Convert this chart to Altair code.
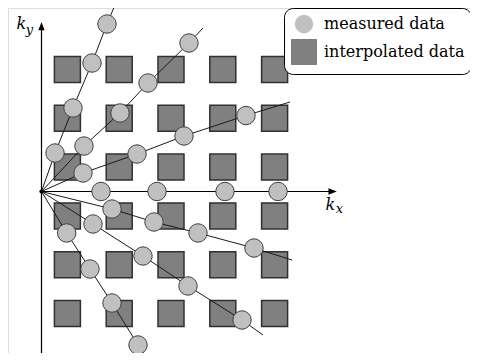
import altair as alt
import pandas as pd

# ---- data (k-space units: one interpolation-grid step) ----
grid_kx = [0.5, 1.5, 2.5, 3.5, 4.5]
grid_ky = [2.5, 1.5, 0.5, -0.5, -1.5, -2.5]

spoke_kx = {
    1: [0.261, 0.608, 0.975, 1.264],
    2: [0.820, 1.515, 2.056, 2.847],
    3: [0.801, 1.844, 2.751, 3.948],
    4: [1.149, 2.230, 3.542, 4.566],
    5: [1.361, 2.172, 3.021, 4.102],
    6: [0.994, 1.959, 2.828, 3.871],
    7: [0.486, 0.936, 1.361, 1.863],
}
spoke_ky = {
    1: [0.789, 1.711, 2.633, 3.432],
    2: [0.932, 1.609, 2.223, 3.043],
    3: [0.379, 0.768, 1.137, 1.557],
    4: [0.0, 0.0, 0.0, 0.0],
    5: [-0.359, -0.625, -0.850, -1.158],
    6: [-0.666, -1.322, -1.936, -2.633],
    7: [-0.850, -1.588, -2.285, -3.145],
}
# where each spoke line ends (beyond the last sample)
spoke_end_kx = {1: 1.419, 2: 3.118, 3: 4.797, 4: 4.566, 5: 4.836, 6: 4.276, 7: 2.056}
spoke_end_ky = {1: 3.822, 2: 3.350, 3: 1.834, 4: 0.0, 5: -1.404, 6: -2.941, 7: -3.453}

# axes extents
kx_axis_end = 5.62
ky_axis_top = 3.39
ky_axis_bottom = -3.45

# view domains
x_domain = [-0.6467, 8.2722]
y_domain = [-3.3094, 3.7602]

labels_text = ["k", "y", "k", "x"]
labels_kx = [-0.39, -0.235, 5.575, 5.75]
labels_ky = [3.34, 3.23, -0.38, -0.44]
labels_size = [16, 13, 16, 13]

SERIF = "DejaVu Serif"

# ---- tables ----
squares = pd.DataFrame(
    [{"kx": x, "ky": y, "kind": "interpolated data"} for y in grid_ky for x in grid_kx]
)
circles = pd.DataFrame(
    [
        {"kx": x, "ky": y, "kind": "measured data", "spoke": s}
        for s in spoke_kx
        for x, y in zip(spoke_kx[s], spoke_ky[s])
    ]
)
line_rows = []
for s in spoke_kx:
    pts = [(0.0, 0.0)] + list(zip(spoke_kx[s], spoke_ky[s])) + [(spoke_end_kx[s], spoke_end_ky[s])]
    for i, (x, y) in enumerate(pts):
        line_rows.append({"spoke": s, "i": i, "kx": x, "ky": y})
lines = pd.DataFrame(line_rows)

axes = pd.DataFrame(
    [
        {"kx": 0.0, "ky": ky_axis_bottom, "kx2": 0.0, "ky2": ky_axis_top},
        {"kx": 0.0, "ky": 0.0, "kx2": kx_axis_end, "ky2": 0.0},
    ]
)
arrow_up = pd.DataFrame([{"kx": 0.0, "ky": ky_axis_top}])
arrow_right = pd.DataFrame([{"kx": kx_axis_end, "ky": 0.0}])
origin = pd.DataFrame([{"kx": 0.0, "ky": 0.0}])
labels = pd.DataFrame(
    {"text": labels_text, "kx": labels_kx, "ky": labels_ky, "size": labels_size}
)

X = alt.X("kx:Q", scale=alt.Scale(domain=x_domain, nice=False, zero=False), axis=None)
Y = alt.Y("ky:Q", scale=alt.Scale(domain=y_domain, nice=False, zero=False), axis=None)

kinds = ["measured data", "interpolated data"]
leg = alt.Legend(
    title=None,
    orient="none",
    legendX=276,
    legendY=0,
    strokeColor="black",
    fillColor="white",
    cornerRadius=9,
    padding=6,
    labelFont=SERIF,
    labelFontSize=16,
    labelColor="black",
    labelOffset=6,
    labelLimit=400,
    rowPadding=0,
    symbolStrokeColor="#404040",
    symbolStrokeWidth=1.2,
    symbolOpacity=1,
)
fill_enc = alt.Fill("kind:N", scale=alt.Scale(domain=kinds, range=["#c0c0c0", "#808080"]), legend=leg)
shape_enc = alt.Shape("kind:N", scale=alt.Scale(domain=kinds, range=["circle", "square"]), legend=leg)
size_enc = alt.Size("kind:N", scale=alt.Scale(domain=kinds, range=[340, 676]), legend=leg)

sq_layer = alt.Chart(squares).mark_point(
    filled=True, opacity=1, stroke="#303030", strokeWidth=1.5
).encode(x=X, y=Y, fill=fill_enc, shape=shape_enc, size=size_enc)

line_layer = alt.Chart(lines).mark_line(color="#1a1a1a", strokeWidth=1).encode(
    x=X, y=Y, detail="spoke:N", order="i:Q"
)

axis_layer = alt.Chart(axes).mark_rule(color="black", strokeWidth=1.2).encode(
    x=X, y=Y, x2="kx2:Q", y2="ky2:Q"
)

arrow_up_layer = alt.Chart(arrow_up).mark_point(
    filled=True, opacity=1, color="black", shape="M0,-1L-0.75,1L0.75,1Z", size=70
).encode(x=X, y=Y)
arrow_right_layer = alt.Chart(arrow_right).mark_point(
    filled=True, opacity=1, color="black", shape="M1,0L-1,-0.75L-1,0.75Z", size=70
).encode(x=X, y=Y)

origin_layer = alt.Chart(origin).mark_point(filled=True, opacity=1, color="black", size=18).encode(
    x=X, y=Y
)

circ_layer = alt.Chart(circles).mark_point(
    filled=True, opacity=1, stroke="#404040", strokeWidth=1
).encode(x=X, y=Y, fill=fill_enc, shape=shape_enc, size=size_enc)

label_layer = alt.Chart(labels).mark_text(
    font=SERIF, fontStyle="italic", color="black", align="center", baseline="alphabetic"
).encode(x=X, y=Y, text="text:N", size=alt.Size("size:Q", scale=None, legend=None))

chart = (
    alt.layer(
        sq_layer, line_layer, axis_layer, arrow_up_layer, arrow_right_layer,
        origin_layer, circ_layer, label_layer,
    )
    .properties(width=462, height=345, padding=0, autosize=alt.AutoSizeParams(type="none"))
    .configure_view(stroke=None)
    .configure(background="white")
)

chart.save("out.html", embed_options={"renderer": "svg", "actions": False})
